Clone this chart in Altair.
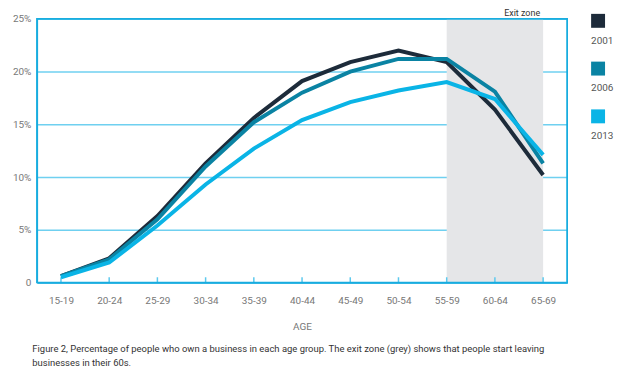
import altair as alt
import pandas as pd

ages = ["15-19", "20-24", "25-29", "30-34", "35-39", "40-44",
        "45-49", "50-54", "55-59", "60-64", "65-69"]
years = ["2001", "2006", "2013"]
v2001 = [0.6, 2.3, 6.3, 11.3, 15.6, 19.1, 20.9, 22.0, 20.9, 16.4, 10.2]
v2006 = [0.6, 2.2, 6.0, 11.0, 15.2, 18.0, 20.0, 21.2, 21.2, 18.1, 11.3]
v2013 = [0.5, 1.9, 5.4, 9.3, 12.7, 15.4, 17.1, 18.2, 19.0, 17.4, 12.1]
colors = ["#1d2b3a", "#0a83a3", "#0ab4e6"]
exit_start, exit_end = "55-59", "65-69"
caption = ["Figure 2, Percentage of people who own a business in each age group. The exit zone (grey) shows that people start leaving",
           "businesses in their 60s."]

rows = []
for y, vals in zip(years, [v2001, v2006, v2013]):
    for i, (a, v) in enumerate(zip(ages, vals)):
        rows.append({"age": a, "year": y, "value": v, "order": i})
df = pd.DataFrame(rows)
ages_df = pd.DataFrame({"age": ages})
zone_df = pd.DataFrame({"start": [exit_start], "end": [exit_end], "lo": [0], "hi": [25],
                        "label": ["Exit zone"]})
leg_df = pd.DataFrame({"year": years, "color": colors})

FONT = "Roboto"
GRID = "#6fd0f0"
FRAME = "#19addf"

xscale = alt.Scale(type="point", domain=ages, padding=0.5)
yscale = alt.Scale(domain=[0, 25], nice=False)

xaxis = alt.Axis(title="AGE", labelAngle=0, ticks=False, domain=True, domainColor=FRAME,
                 domainWidth=1.5, grid=False,
                 labelPadding=13, titlePadding=16, labelColor="#777",
                 titleColor="#777", labelFontSize=10, titleFontSize=10,
                 titleFontWeight="normal", labelFont=FONT, titleFont=FONT)
yaxis = alt.Axis(title=None, values=[0, 5, 10, 15, 20, 25], ticks=False,
                 domain=True, domainColor=FRAME, domainWidth=1.5,
                 grid=True, gridColor=GRID, gridWidth=1.5, gridOpacity=1,
                 labelExpr="datum.value == 0 ? '0' : datum.value + '%'",
                 labelColor="#777", labelFontSize=10, labelFont=FONT,
                 labelPadding=6)

zone = alt.Chart(zone_df).mark_rect(fill="#e5e6e8").encode(
    x=alt.X("start:O", scale=xscale, axis=xaxis),
    x2="end:O",
    y=alt.Y("lo:Q", scale=yscale, axis=yaxis),
    y2="hi:Q",
)

frame = alt.Chart(zone_df).mark_rect(fillOpacity=0, stroke=FRAME, strokeWidth=1.5).encode(
    x=alt.value(0), x2=alt.value("width"), y=alt.value(0), y2=alt.value("height"),
)

top_rule = alt.Chart(zone_df).mark_rule(color=FRAME, strokeWidth=1.5).encode(
    x=alt.value(0), x2=alt.value("width"),
    y=alt.Y("hi:Q", scale=yscale, axis=yaxis),
)
right_rule = alt.Chart(zone_df).mark_rule(color=FRAME, strokeWidth=1.5).encode(
    x=alt.value("width"),
    y=alt.Y("lo:Q", scale=yscale, axis=yaxis), y2="hi:Q",
)

ticks = alt.Chart(ages_df).mark_rule(color="#5cc9ee", strokeWidth=1.5).encode(
    x=alt.X("age:O", scale=xscale, axis=xaxis),
    y=alt.datum(0, type="quantitative"),
    y2=alt.datum(0.5),
)

lines = alt.Chart(df).mark_line(strokeWidth=4, strokeJoin="miter").encode(
    x=alt.X("age:O", scale=xscale, axis=xaxis),
    y=alt.Y("value:Q", scale=yscale, axis=yaxis),
    color=alt.Color("year:N", scale=alt.Scale(domain=years, range=colors), legend=None),
    order="order:Q",
)

exit_text = alt.Chart(zone_df).mark_text(
    align="right", baseline="alphabetic", dy=-3, dx=-3,
    fontSize=9, font=FONT, color="#333",
).encode(
    x=alt.X("end:O", scale=xscale, axis=xaxis),
    y=alt.Y("hi:Q", scale=yscale, axis=yaxis),
    text="label:N",
)

main = alt.layer(zone, ticks, lines, frame, top_rule, right_rule, exit_text).properties(
    width=533, height=265)

leg_y = alt.Y("year:N", sort=years, scale=alt.Scale(domain=years, padding=1 / 24, type="point"), axis=None)
leg_sq = alt.Chart(leg_df).mark_square(size=196, opacity=1).encode(
    x=alt.value(7),
    y=leg_y,
    color=alt.Color("year:N", scale=alt.Scale(domain=years, range=colors), legend=None),
)
leg_tx = alt.Chart(leg_df).mark_text(align="left", baseline="middle", dy=20, fontSize=10,
                                     font=FONT, color="#555").encode(
    x=alt.value(0),
    y=leg_y,
    text="year:N",
)
legend = alt.layer(leg_sq, leg_tx).properties(width=22, height=100)

chart = alt.hconcat(main, legend, spacing=23).properties(
    padding={"top": 0, "left": 4, "right": 0, "bottom": 0},
    title=alt.TitleParams(text=caption, orient="bottom", anchor="start", fontSize=9.5,
                          font=FONT, fontWeight="normal", color="#333", lineHeight=13.5,
                          offset=13, dx=20),
).configure_view(strokeWidth=0)

chart.save("out.html", embed_options={"renderer": "svg", "actions": False})
